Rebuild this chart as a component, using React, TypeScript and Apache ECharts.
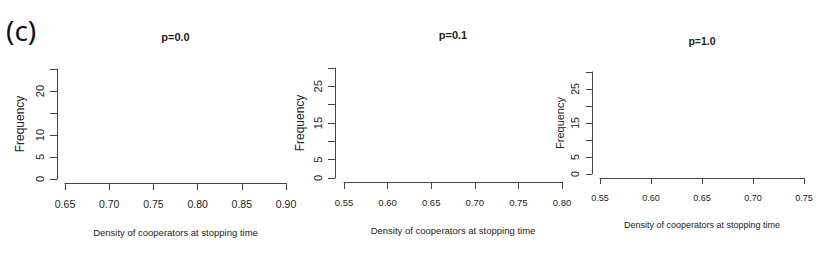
import React, { useEffect, useRef } from "react";
import * as echarts from "echarts";

const panelTitles = ["p=0.0", "p=0.1", "p=1.0"];
const xMins = [0.65, 0.55, 0.55];
const xMaxs = [0.9, 0.8, 0.75];
const xStep = 0.05;
const yMaxs = [25, 30, 30];
const yStep = 5;
const yShownLabels = [
  [0, 5, 10, 20],
  [0, 5, 15, 25],
  [0, 5, 15, 25],
];
// histogram counts per panel (no visible bars in the reference)
const counts0: [number, number][] = [];
const counts1: [number, number][] = [];
const counts2: [number, number][] = [];
const allCounts = [counts0, counts1, counts2];
const xName = "Density of cooperators at stopping time";
const yName = "Frequency";
const panelLetter = "(c)";

const SANS = "'Liberation Sans', Arial, sans-serif";

// layout per panel
const layout = [
  { left: 65, width: 221, top: 69, height: 110, yOff: 8, xOff: 4, tickFs: 10.5, tickMargin: 15, nameFs: 9.5, yTickFs: 11, yNameFs: 12, yNameGap: 31, xNameGap: 44, titleTop: 31, titleFs: 11, tickLen: 7 },
  { left: 344, width: 218, top: 68, height: 110, yOff: 9, xOff: 4, tickFs: 9.5, tickMargin: 15, nameFs: 9.5, yTickFs: 11, yNameFs: 12, yNameGap: 29, xNameGap: 43, titleTop: 29, titleFs: 11, tickLen: 7 },
  { left: 600, width: 204, top: 72, height: 102, yOff: 8, xOff: 4, tickFs: 9, tickMargin: 15, nameFs: 9, yTickFs: 10.5, yNameFs: 11, yNameGap: 27, xNameGap: 42, titleTop: 35, titleFs: 10.5, tickLen: 6 },
];

const AXIS_COLOR = "#444";
const TEXT_COLOR = "#222";

export default function App() {
  const ref = useRef<HTMLDivElement>(null);
  useEffect(() => {
    document.body.style.margin = "0";
    if (!ref.current) return;
    const chart = echarts.init(ref.current, undefined, { renderer: "svg" });
    const grids = layout.map((l) => ({ left: l.left, top: l.top, width: l.width, height: l.height, containLabel: false }));
    const xAxes = layout.map((l, i) => ({
      type: "value",
      gridIndex: i,
      min: xMins[i],
      max: xMaxs[i],
      interval: xStep,
      offset: l.xOff,
      name: xName,
      nameLocation: "middle",
      nameGap: l.xNameGap,
      nameTextStyle: { fontFamily: SANS, fontSize: l.nameFs, color: TEXT_COLOR },
      axisLine: { show: true, onZero: false, lineStyle: { color: AXIS_COLOR, width: 1 } },
      axisTick: { show: true, length: l.tickLen, lineStyle: { color: AXIS_COLOR } },
      axisLabel: {
        margin: l.tickMargin,
        fontFamily: SANS,
        fontSize: l.tickFs,
        color: TEXT_COLOR,
        formatter: (v: number) => v.toFixed(2),
      },
      splitLine: { show: false },
    }));
    const yAxes = layout.map((l, i) => ({
      type: "value",
      gridIndex: i,
      min: 0,
      max: yMaxs[i],
      interval: yStep,
      offset: l.yOff,
      name: yName,
      nameLocation: "middle",
      nameGap: l.yNameGap,
      nameTextStyle: { fontFamily: SANS, fontSize: l.yNameFs, color: TEXT_COLOR },
      axisLine: { show: true, lineStyle: { color: AXIS_COLOR, width: 1 } },
      axisTick: { show: true, length: l.tickLen, lineStyle: { color: AXIS_COLOR } },
      axisLabel: {
        rotate: 90,
        margin: 12,
        fontFamily: SANS,
        fontSize: l.yTickFs,
        color: TEXT_COLOR,
        formatter: (v: number) => (yShownLabels[i].includes(Math.round(v)) ? String(Math.round(v)) : ""),
      },
      splitLine: { show: false },
    }));
    const titles = layout.map((l, i) => ({
      text: panelTitles[i],
      left: l.left + l.width / 2,
      top: l.titleTop,
      textAlign: "center",
      padding: 0,
      textStyle: { fontFamily: SANS, fontSize: l.titleFs, fontWeight: "bold", color: TEXT_COLOR },
    }));
    const series = allCounts.map((c, i) => ({
      type: "bar",
      xAxisIndex: i,
      yAxisIndex: i,
      data: c,
      barWidth: "90%",
      itemStyle: { color: "#d9d9d9", borderColor: "#333", borderWidth: 1 },
    }));
    chart.setOption({
      animation: false,
      backgroundColor: "#fff",
      title: titles,
      grid: grids,
      xAxis: xAxes,
      yAxis: yAxes,
      series,
      graphic: [
        {
          type: "text",
          left: 6,
          top: 16,
          style: { text: panelLetter, font: "28px 'Noto Sans', 'Open Sans', sans-serif", fill: "#111" },
        },
      ],
    });
    return () => chart.dispose();
  }, []);
  return <div ref={ref} style={{ width: 831, height: 278 }} />;
}
